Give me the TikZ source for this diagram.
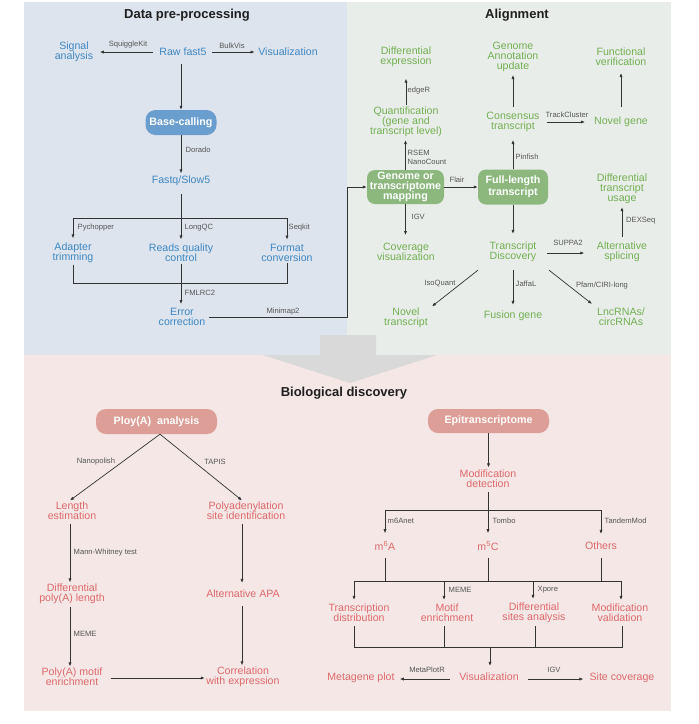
\documentclass[tikz,border=0pt]{standalone}
\usepackage{fontspec}
\setmainfont{Liberation Sans}
\usetikzlibrary{arrows.meta,calc}
\definecolor{bluet}{HTML}{3D87C2}
\definecolor{greent}{HTML}{70B050}
\definecolor{redt}{HTML}{E0686A}
\definecolor{blueb}{HTML}{6A9ECF}
\definecolor{greenb}{HTML}{8CB87E}
\definecolor{redb}{HTML}{DE9E98}
\definecolor{bgblue}{HTML}{DEE4EE}
\definecolor{bggreen}{HTML}{E9EDEA}
\definecolor{bgred}{HTML}{F4E7E6}
\definecolor{greyarr}{HTML}{D9D9D9}
\definecolor{linec}{HTML}{333333}
\definecolor{toolc}{HTML}{555555}
\begin{document}
\begin{tikzpicture}[x=1pt,y=-1pt,
  txt/.style={align=center,inner sep=1.5pt,font=\fontsize{10.6}{10}\selectfont},
  bt/.style={txt,text=bluet},
  gt/.style={txt,text=greent},
  rt/.style={txt,text=redt},
  tool/.style={inner sep=0.5pt,text=toolc,font=\fontsize{7.6}{9}\selectfont,align=left},
  ttl/.style={font=\bfseries\fontsize{13}{15}\selectfont,text=black!88},
  boxs/.style={rounded corners=8pt,text=white,align=center,inner sep=1pt,font=\bfseries\fontsize{10.7}{10}\selectfont},
  arr/.style={draw=linec,line width=0.7pt,-{Latex[length=4pt,width=3.2pt]}},
  ln/.style={draw=linec,line width=0.7pt},
]
\useasboundingbox (0,0) rectangle (699,724);
% backgrounds
\fill[bgblue] (24,2) rectangle (347,355);
\fill[bggreen] (347,2) rectangle (671,355);
\fill[bgred] (24,355) rectangle (671,711);
\fill[greyarr] (320,335) -- (376,335) -- (376,355) -- (437,355) -- (350,383) -- (263,355) -- (320,355) -- cycle;

% ================= Data pre-processing =================
\node[ttl] (title1) at (187,15) {Data pre-processing};
\node[bt] (raw) at (183,52) {Raw fast5};
\node[bt] (sig) at (74,52) {Signal\\analysis};
\node[bt] (vis1) at (288,52) {Visualization};
\node[boxs,fill=blueb,minimum width=71pt,minimum height=25pt,rounded corners=10pt] (base) at (181,122.5) {Base-calling};
\node[bt] (fastq) at (181,181) {Fastq/Slow5};
\node[bt] (adapt) at (73,253) {Adapter\\trimming};
\node[bt] (rqc) at (181,253) {Reads quality\\control};
\node[bt] (fmt) at (287,253) {Format\\conversion};
\node[bt] (err) at (182,317) {Error\\correction};

\draw[arr,shorten <=5pt,shorten >=5pt] (raw.west) -- (sig.east);
\node[tool] (l1) at (128,45) {SquiggleKit};
\draw[arr,shorten <=4pt,shorten >=2pt] (raw.east) -- (vis1.west);
\node[tool] (l2) at (232,46) {BulkVis};
\draw[arr,shorten <=6pt] (base.north |- raw.south) -- (base.north);
\draw[arr,shorten >=1pt] (base.south) -- (base.south |- fastq.north);
\node[tool,anchor=west] (l3) at (185,150) {Dorado};
\draw[arr,shorten <=6pt,shorten >=3pt] (fastq.south) -- (fastq.south |- rqc.north);
\coordinate (br1) at (181,218);
\draw[ln] (br1 -| adapt.north) -- (br1 -| fmt.north);
\draw[arr,shorten >=3pt] (br1 -| adapt.north) -- (adapt.north);
\draw[arr,shorten >=3pt] (br1 -| fmt.north) -- (fmt.north);
\node[tool,anchor=west] (l4) at (77,228) {Pychopper};
\node[tool,anchor=west] (l5) at (184,228) {LongQC};
\node[tool,anchor=west] (l6) at (288,228) {Seqkit};
\coordinate (jn1) at (181,283);
\draw[ln] (adapt.south) -- (adapt.south |- jn1) -- (fmt.south |- jn1) -- (fmt.south);
\draw[arr,shorten >=2.5pt] (rqc.south) -- (rqc.south |- err.north);
\node[tool,anchor=west] (l7) at (184,293) {FMLRC2};

% ================= Alignment =================
\node[ttl] (title2) at (517,15) {Alignment};
\node[boxs,fill=greenb,minimum width=77pt,minimum height=34pt] (map) at (405.5,187) {Genome or\\transcriptome\\mapping};
\node[boxs,fill=greenb,minimum width=70pt,minimum height=35pt,font=\bfseries\fontsize{10.7}{12}\selectfont] (full) at (513,187) {Full-length\\transcript};
\coordinate (t1) at (347,317);
\draw[arr,shorten <=2pt] (err.east) -- (t1) -- (t1 |- map.west) -- (map.west);
\node[tool] (l8) at (283,312) {Minimap2};

\node[gt] (diffexp) at (406,57) {Differential\\expression};
\node[gt] (quant) at (406,122) {Quantification\\(gene and\\transcript level)};
\node[gt] (gau) at (513,57) {Genome\\Annotation\\update};
\node[gt] (cons) at (513,122) {Consensus\\transcript};
\node[gt] (funcv) at (621,57) {Functional\\verification};
\node[gt] (novg) at (621,122) {Novel gene};
\node[gt] (dtu) at (622,189) {Differential\\transcript\\usage};
\node[gt] (alts) at (622,252) {Alternative\\splicing};
\node[gt] (td) at (513,252) {Transcript\\Discovery};
\node[gt] (covv) at (406,252) {Coverage\\visualization};
\node[gt] (novt) at (406,318) {Novel\\transcript};
\node[gt] (fus) at (513,316) {Fusion gene};
\node[gt] (lnc) at (621,317) {LncRNAs/\\circRNAs};

\draw[arr,shorten >=10pt] (quant.north) -- (quant.north |- diffexp.south);
\node[tool,anchor=west] (l9) at (407,91) {edgeR};
\draw[arr,shorten >=1.5pt] (map.north) -- (map.north |- quant.south);
\node[tool,anchor=west] (l10) at (407,157.5) {RSEM\\NanoCount};
\draw[arr,shorten <=3.5pt,shorten >=1.5pt] (cons.north) -- (cons.north |- gau.south);
\draw[arr,shorten >=6.5pt] (full.north) -- (full.north |- cons.south);
\node[tool,anchor=west] (l11) at (515,157) {Pinfish};
\draw[arr,shorten <=8.5pt,shorten >=5.5pt] (novg.north) -- (novg.north |- funcv.south);
\draw[arr,shorten <=5.5pt,shorten >=7.5pt] (cons.east) -- (novg.west);
\node[tool] (l12) at (567,115) {TrackCluster};
\draw[arr] (map.east) -- (full.west);
\node[tool] (l13) at (457,180) {Flair};
\draw[arr,shorten >=6.5pt] (full.south) -- (full.south |- td.north);
\draw[arr,shorten >=6.5pt] (map.south) -- (map.south |- covv.north);
\node[tool,anchor=west] (l14) at (411,217) {IGV};
\draw[arr,shorten <=3.5pt,shorten >=1.5pt] (alts.north) -- (alts.north |- dtu.south);
\node[tool,anchor=west] (l15) at (625.5,221) {DEXSeq};
\draw[arr,shorten <=9pt,shorten >=11pt] ([yshift=-1pt]td.east) -- ([yshift=-1pt]td.east -| alts.west);
\node[tool] (l16) at (568,243) {SUPPA2};
\draw[arr] ([xshift=-35pt,yshift=-6.5pt]td.south) -- ([xshift=26pt,yshift=0pt]novt.north);
\node[tool] (l17) at (440,284) {IsoQuant};
\draw[arr,shorten <=6.5pt,shorten >=4.5pt] (td.south) -- (td.south |- fus.north);
\node[tool,anchor=west] (l18) at (515,284) {JaffaL};
\draw[arr] ([xshift=36pt,yshift=-6.5pt]td.south) -- ([xshift=-29pt,yshift=2.5pt]lnc.north);
\node[tool] (l19) at (602,286) {Pfam/CIRI-long};

% ================= Biological discovery =================
\node[ttl] (title3) at (344,393) {Biological discovery};
\node[boxs,fill=redb,minimum width=121pt,minimum height=25pt,rounded corners=10pt] (polya) at (156.5,421.5) {Ploy(A)~~analysis};
\node[rt] (len) at (72,511) {Length\\estimation};
\node[rt] (pas) at (246,511) {Polyadenylation\\site identification};
\node[rt] (dpl) at (72,594) {Differential\\poly(A) length};
\node[rt] (apa) at (243,594) {Alternative APA};
\node[rt] (pme) at (72,677) {Poly(A) motif\\enrichment};
\node[rt] (corr) at (243,677) {Correlation\\with expression};

\draw[arr] ([xshift=3.5pt]polya.south) -- ([xshift=-2pt]len.north);
\draw[arr] ([xshift=3.5pt]polya.south) -- ([xshift=-4pt]pas.north);
\node[tool] (l20) at (96,462) {Nanopolish};
\node[tool] (l21) at (215,462) {TAPIS};
\draw[arr,shorten <=2pt] ([xshift=-2pt]len.south) -- ([xshift=-2pt]len.south |- dpl.north);
\node[tool,anchor=west] (l22) at (73,553) {Mann-Whitney test};
\draw[arr,shorten <=2pt,shorten >=5.5pt] ([xshift=-4pt]pas.south) -- ([xshift=-4pt]pas.south |- apa.north);
\draw[arr,shorten <=1.5pt] ([xshift=-2pt]dpl.south) -- ([xshift=-2pt]dpl.south |- pme.north);
\node[tool,anchor=west] (l23) at (73,634) {MEME};
\draw[arr,shorten <=6.5pt] ([xshift=-1pt]apa.south) -- ([xshift=-1pt]apa.south |- corr.north);
\draw[arr,shorten <=6.5pt] ([yshift=-1pt]pme.east) -- ([yshift=-1pt]pme.east -| corr.west);

\node[boxs,fill=redb,minimum width=121pt,minimum height=24pt,rounded corners=10pt] (epi) at (488.5,421) {Epitranscriptome};
\node[rt] (mod) at (488,479) {Modification\\detection};
\node[rt] (m6a) at (385,546) {m\textsuperscript{6}A};
\node[rt] (m5c) at (488,546) {m\textsuperscript{5}C};
\node[rt] (oth) at (601,546) {Others};
\draw[arr,shorten >=1pt] (epi.south) -- (epi.south |- mod.north);
\coordinate (br2) at (488,510);
\draw[arr,shorten <=2.5pt,shorten >=6.5pt] (mod.south) -- (mod.south |- m5c.north);
\draw[ln] (br2 -| m6a.north) -- (br2 -| oth.north);
\draw[arr,shorten >=6.5pt] (br2 -| m6a.north) -- (m6a.north);
\draw[arr,shorten >=6.5pt] (br2 -| oth.north) -- (oth.north);
\node[tool,anchor=west] (l24) at (387,521) {m6Anet};
\node[tool,anchor=west] (l25) at (492,521) {Tombo};
\node[tool,anchor=west] (l26) at (604,521) {TandemMod};

\node[rt] (trd) at (359,613) {Transcription\\distribution};
\node[rt] (mot) at (447,613) {Motif\\enrichment};
\node[rt] (dsa) at (534,613) {Differential\\sites analysis};
\node[rt] (mval) at (620,613) {Modification\\validation};
\coordinate (br3) at (488,581);
\draw[ln,shorten <=6pt] (m6a.south) -- (m6a.south |- br3);
\draw[ln,shorten <=6pt] (m5c.south) -- (m5c.south |- br3);
\draw[ln,shorten <=6pt] (oth.south) -- (oth.south |- br3);
\coordinate (c1) at (354,581);
\coordinate (c2) at (444,581);
\coordinate (c3) at (533,581);
\coordinate (c4) at (621,581);
\draw[ln] (c1) -- (c4);
\draw[arr,shorten >=2.5pt] (c1) -- (c1 |- trd.north);
\draw[arr,shorten >=2.5pt] (c2) -- (c2 |- mot.north);
\draw[arr,shorten >=2.5pt] (c3) -- (c3 |- dsa.north);
\draw[arr,shorten >=2.5pt] (c4) -- (c4 |- mval.north);
\node[tool,anchor=west] (l27) at (448,590) {MEME};
\node[tool,anchor=west] (l28) at (537,590) {Xpore};

\node[rt] (vis2) at (489,677) {Visualization};
\node[rt] (meta) at (361,678) {Metagene plot};
\node[rt] (sitec) at (622,678) {Site coverage};
\coordinate (jn2) at (490,647);
\coordinate (d1) at (354,626);
\coordinate (d2) at (444,626);
\coordinate (d3) at (535,626);
\coordinate (d4) at (622,626);
\draw[ln] (d1) -- (d1 |- jn2) -- (d4 |- jn2) -- (d4);
\draw[ln] (d2) -- (d2 |- jn2);
\draw[ln] (d3) -- (d3 |- jn2);
\draw[arr,shorten >=5.5pt] (jn2) -- (jn2 |- vis2.north);
\draw[arr,shorten <=7.5pt,shorten >=3.5pt] ([yshift=-2pt]vis2.west) -- ([yshift=-2pt]vis2.west -| meta.east);
\node[tool] (l29) at (427,670) {MetaPlotR};
\draw[arr,shorten <=7.5pt,shorten >=4.5pt] ([yshift=-2pt]vis2.east) -- ([yshift=-2pt]vis2.east -| sitec.west);
\node[tool] (l30) at (554,670) {IGV};
\end{tikzpicture}
\end{document}
